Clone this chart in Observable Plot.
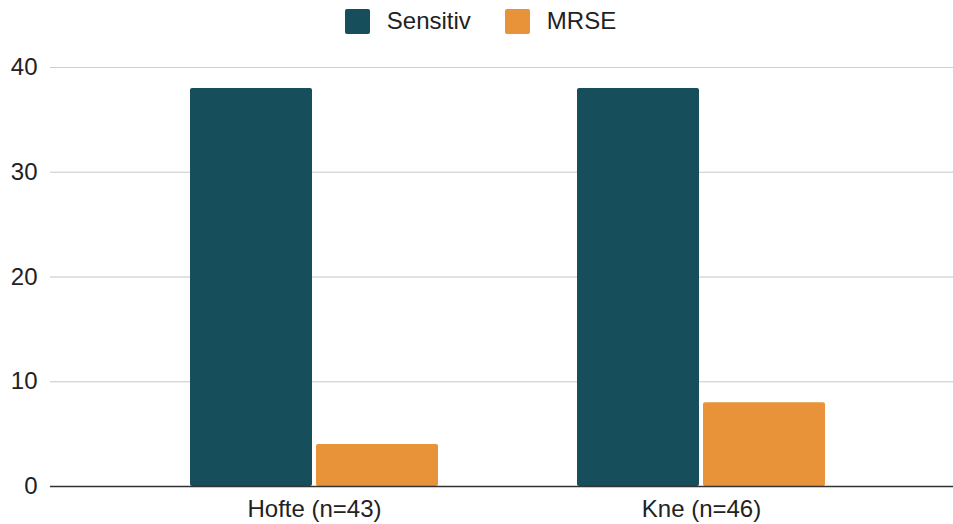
<!DOCTYPE html>
<html>
<head>
<meta charset="utf-8">
<script src="https://cdn.jsdelivr.net/npm/d3@7"></script>
<script src="https://cdn.jsdelivr.net/npm/@observablehq/plot@0.6"></script>
<style>
  html, body { margin: 0; padding: 0; background: #fff; }
  body { width: 953px; height: 524px; overflow: hidden; font-family: "Liberation Sans", Arial, Helvetica, sans-serif; }
  .legend { height: 42px; display: flex; justify-content: center; align-items: center; font-size: 24px; color: #222; padding-left: 8px; box-sizing: border-box; }
  .legend .item { display: flex; align-items: center; margin: 0 17px; }
  .legend .sw { width: 25px; height: 25px; border-radius: 2px; margin-right: 17px; }
  svg { display: block; }
</style>
</head>
<body>
<div id="chart"></div>
<script>
// Categories, series and their values
const categories = ["Hofte (n=43)", "Kne (n=46)"];
const seriesNames = ["Sensitiv", "MRSE"];
const sensitivValues = [38, 38];
const mrseValues = [4, 8];
const yTicks = [0, 10, 20, 30, 40];
const colors = ["#174e5c", "#e8923a"];

const rows = categories.flatMap((c, i) => [
  {category: c, series: seriesNames[0], value: sensitivValues[i]},
  {category: c, series: seriesNames[1], value: mrseValues[i]}
]);

const root = document.getElementById("chart");

// Legend row above the plot
const legend = document.createElement("div");
legend.className = "legend";
seriesNames.forEach((s, i) => {
  const item = document.createElement("div");
  item.className = "item";
  const sw = document.createElement("div");
  sw.className = "sw";
  sw.style.background = colors[i];
  const label = document.createElement("span");
  label.textContent = s;
  item.append(sw, label);
  legend.append(item);
});
root.append(legend);

const half = 126; // each bar takes half the group band minus a small gap

const plot = Plot.plot({
  width: 953,
  height: 482,
  marginTop: 25,
  marginBottom: 38,
  marginLeft: 50,
  marginRight: 0,
  style: {fontFamily: "'Liberation Sans', Arial, Helvetica, sans-serif", fontSize: "24px", color: "#222", background: "#fff"},
  x: {
    domain: categories,
    range: [120.5, 894.5],
    paddingInner: 0.3592,
    paddingOuter: 0.1796,
    label: null,
    tickSize: 0,
    tickPadding: 13
  },
  y: {
    domain: [0, 40],
    ticks: yTicks,
    label: null,
    tickSize: 0,
    tickPadding: 13,
    grid: true
  },
  color: {domain: seriesNames, range: colors},
  marks: [
    Plot.gridY(yTicks, {stroke: "#cfcfcf", strokeOpacity: 1}),
    Plot.barY(rows.filter(d => d.series === seriesNames[0]), {
      x: "category", y: "value", fill: "series", insetRight: half, rx: 2
    }),
    Plot.barY(rows.filter(d => d.series === seriesNames[1]), {
      x: "category", y: "value", fill: "series", insetLeft: half, rx: 2
    }),
    Plot.ruleY([0], {stroke: "#333", strokeWidth: 1.3})
  ]
});
root.append(plot);
</script>
</body>
</html>
